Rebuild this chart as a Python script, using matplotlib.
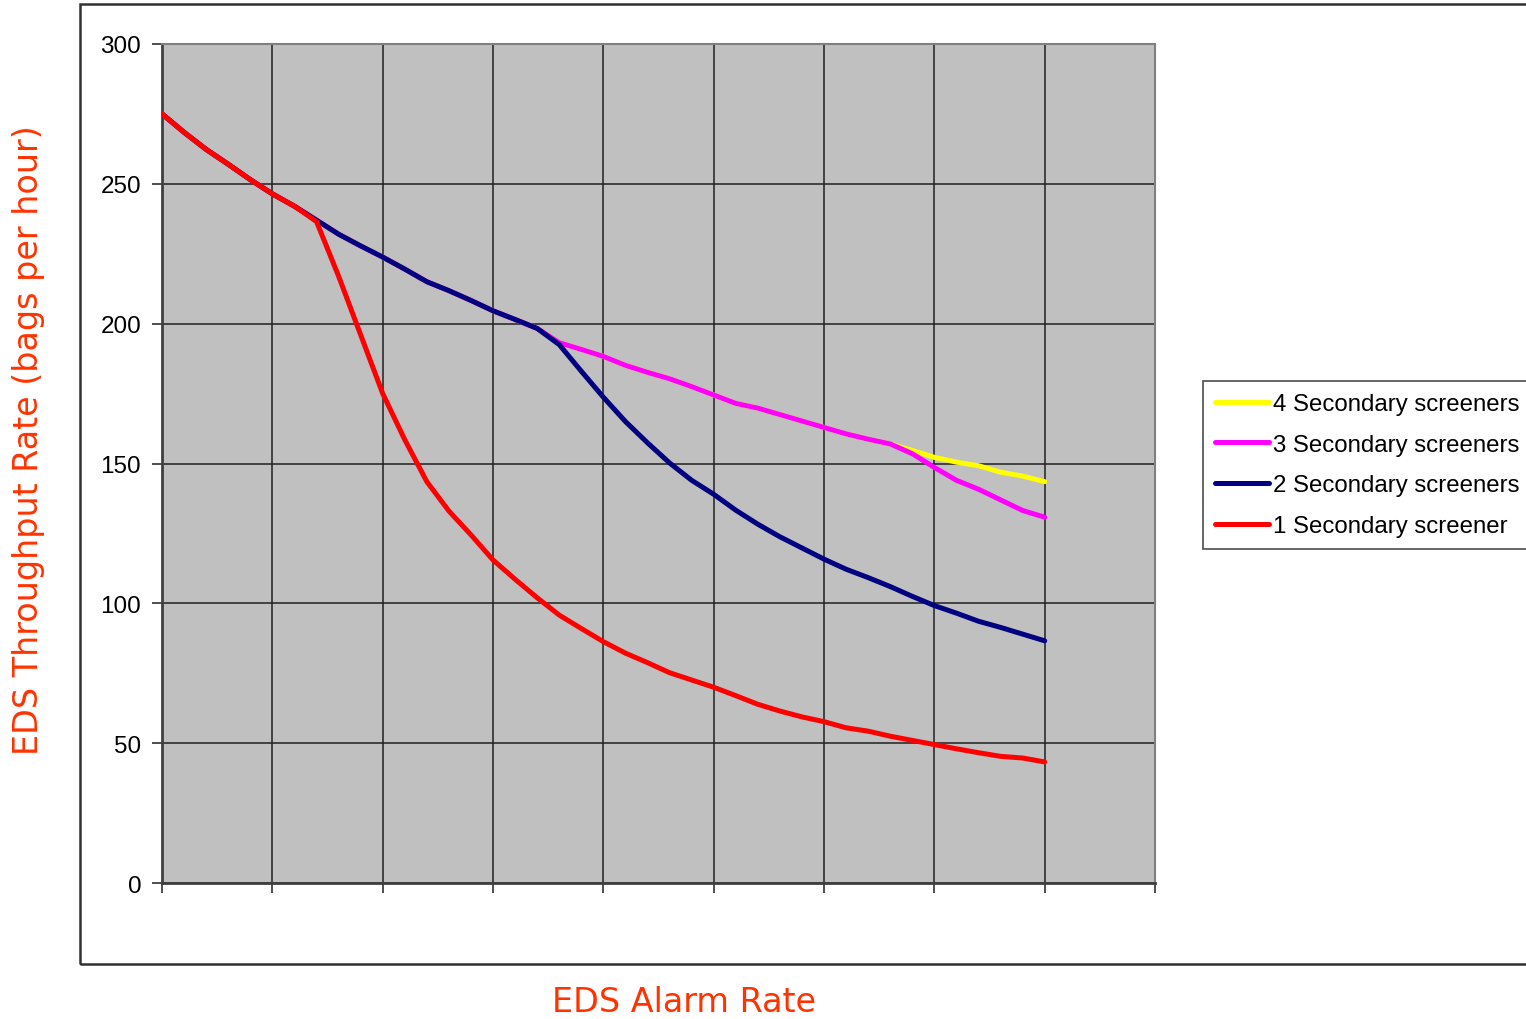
import numpy as np
import matplotlib.pyplot as plt
from matplotlib.patches import Rectangle

# EDS alarm rate, one sample every 0.02 (grid every 0.1)
alarm_rate = np.round(np.arange(41) * 0.02, 2)

# throughput (bags per hour) for each number of secondary screeners
screeners_4 = [275, 268.4, 262.3, 257, 251.5, 246.4, 242, 237, 232, 227.8,
               223.8, 219.5, 215, 211.8, 208.3, 204.6, 201.5, 198.3, 193.2, 190.8,
               188.3, 185.1, 182.6, 180.3, 177.5, 174.5, 171.5, 169.8, 167.5, 165.2,
               162.9, 160.6, 158.7, 157, 154.7, 152.2, 150.5, 149.2, 146.9, 145.5,
               143.5]
screeners_3 = [275, 268.4, 262.3, 257, 251.5, 246.4, 242, 237, 232, 227.8,
               223.8, 219.5, 215, 211.8, 208.3, 204.6, 201.5, 198.3, 193.2, 190.8,
               188.3, 185.1, 182.6, 180.3, 177.5, 174.5, 171.5, 169.8, 167.5, 165.2,
               162.9, 160.6, 158.7, 157, 153.5, 148.6, 144, 140.8, 137, 133.2,
               130.8]
screeners_2 = [275, 268.4, 262.3, 257, 251.5, 246.4, 242, 237, 232, 227.8,
               223.8, 219.5, 215, 211.8, 208.3, 204.6, 201.5, 198.3, 192.5, 183,
               173.7, 165, 157.4, 150.2, 144, 139, 133.3, 128.3, 123.8, 119.8,
               115.8, 112.2, 109.2, 106, 102.5, 99.2, 96.5, 93.6, 91.4, 89,
               86.6]
screeners_1 = [275, 268.4, 262.3, 257, 251.5, 246.4, 242, 236.5, 217, 196,
               175, 158.5, 143.5, 133, 124.5, 115.5, 108.6, 102, 95.8, 91,
               86.3, 82.2, 78.8, 75.2, 72.6, 70, 67, 63.9, 61.5, 59.4,
               57.7, 55.5, 54.3, 52.5, 51, 49.5, 48, 46.6, 45.3, 44.7,
               43.3]

series = [
    (screeners_4, '#FFFF00', '4 Secondary screeners'),
    (screeners_3, '#FF00FF', '3 Secondary screeners'),
    (screeners_2, '#000080', '2 Secondary screeners'),
    (screeners_1, '#FF0000', '1 Secondary screener'),
]

label_color = '#FF3300'

fig = plt.figure(figsize=(15.26, 10.20), dpi=100)
ax = fig.add_axes([0.1062, 0.1333, 0.6507, 0.8226])
ax.set_facecolor('#C0C0C0')

for vals, col, lab in series:
    ax.plot(alarm_rate, vals, color=col, lw=3.6, label=lab,
            solid_capstyle='round', solid_joinstyle='round', zorder=3)

ax.set_xlim(0, 0.9)
ax.set_ylim(0, 300)
ax.set_xticks(np.round(np.arange(10) * 0.1, 1))
ax.set_xticklabels([])
ax.set_yticks([0, 50, 100, 150, 200, 250, 300])
ax.grid(True, color='#202020', lw=1.1, zorder=1)
ax.set_axisbelow(True)

ax.tick_params(axis='both', direction='out', length=7, width=1.3, color='#404040')
ax.tick_params(axis='y', labelsize=17.5, pad=8)
for t in ax.get_yticklabels():
    t.set_fontfamily('Liberation Sans')

for s in ['left', 'bottom']:
    ax.spines[s].set_color('#404040')
    ax.spines[s].set_linewidth(2)
for s in ['top', 'right']:
    ax.spines[s].set_color('#808080')
    ax.spines[s].set_linewidth(1.5)

# outer chart frame (runs off the right edge)
fig.add_artist(Rectangle((80 / 1526, 55 / 1020), 1.2, 960 / 1020,
                         transform=fig.transFigure, fill=False,
                         edgecolor='#303030', lw=1.8))

fig.text(0.019, 0.5686, 'EDS Throughput Rate (bags per hour)', rotation=90,
         ha='center', va='center', fontsize=24, color=label_color,
         family='DejaVu Sans')
fig.text(0.4485, 0.0167, 'EDS Alarm Rate', ha='center', va='center',
         fontsize=24, color=label_color, family='DejaVu Sans')

leg = ax.legend(loc='upper left', bbox_to_anchor=(1203 / 1526, 1 - 382 / 1020),
                bbox_transform=fig.transFigure,
                prop={'family': 'Liberation Sans', 'size': 17.3},
                frameon=True, fancybox=False, edgecolor='#202020',
                handlelength=2.25, handletextpad=0.15, labelspacing=0.78,
                borderpad=0.5, borderaxespad=0)
leg.get_frame().set_linewidth(1.2)

fig.savefig('out.png', dpi=100)
